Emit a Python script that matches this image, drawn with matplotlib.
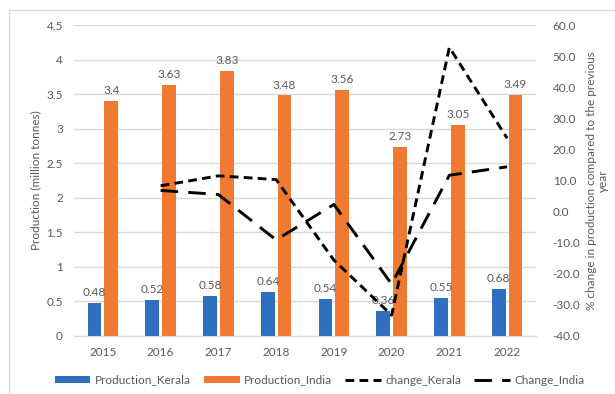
import matplotlib.pyplot as plt
import numpy as np
from matplotlib.lines import Line2D

plt.rcParams['font.family'] = ['Lato', 'DejaVu Sans']

years = ['2015', '2016', '2017', '2018', '2019', '2020', '2021', '2022']
prod_kerala = [0.48, 0.52, 0.58, 0.64, 0.54, 0.36, 0.55, 0.68]
prod_india = [3.4, 3.63, 3.83, 3.48, 3.56, 2.73, 3.05, 3.49]
# % change vs previous year (no value for the first year)
change_kerala = [np.nan, 8.3, 11.5, 10.3, -15.6, -33.3, 52.8, 23.6]
change_india = [np.nan, 6.8, 5.5, -9.1, 2.3, -23.3, 11.7, 14.4]

blue = '#2E6FBF'
orange = '#F07A32'
grey = '#595959'
grid = '#D9D9D9'

fig = plt.figure(figsize=(6.15, 3.94), dpi=100)
ax = fig.add_axes([74/615, 1 - 336/394, (536-74)/615, (336-25)/394])
ax2 = ax.twinx()

x = np.arange(len(years))
w = 0.24
b1 = ax.bar(x - 0.145, prod_kerala, w, color=blue, label='Production_Kerala', zorder=2)
b2 = ax.bar(x + 0.145, prod_india, w, color=orange, label='Production_India', zorder=2)
for r, v in zip(b1, prod_kerala):
    ax.text(r.get_x() + r.get_width()/2, v + 0.07, f'{v:g}', ha='center', va='bottom',
            fontsize=8.5, color=grey)
for r, v in zip(b2, prod_india):
    ax.text(r.get_x() + r.get_width()/2, v + 0.07, f'{v:g}', ha='center', va='bottom',
            fontsize=8.5, color=grey)

ax.set_xlim(-0.5, len(years) - 0.5)
ax.set_ylim(0, 4.5)
ax.set_yticks(np.arange(0, 4.51, 0.5))
ax.set_yticklabels([f'{v:g}' for v in np.arange(0, 4.51, 0.5)])
ax.set_xticks(x)
ax.set_xticklabels(years)
ax.yaxis.grid(True, color=grid, linewidth=1, zorder=0)
ax.set_axisbelow(True)
for s in ['top', 'right', 'left']:
    ax.spines[s].set_visible(False)
    ax2.spines[s].set_visible(False)
ax.spines['bottom'].set_color(grid)
ax2.spines['bottom'].set_visible(False)
ax.tick_params(length=0, colors=grey, labelsize=8.5, pad=8)
ax.set_ylabel('Production (million tonnes)', color=grey, fontsize=8.5, labelpad=4)

l1, = ax2.plot(x, change_kerala, color='black', linewidth=2.1, dashes=(3, 1.8),
               label='change_Kerala', zorder=3)
l2, = ax2.plot(x, change_india, color='black', linewidth=2.1, dashes=(6, 3.5),
               label='Change_India', zorder=3)
ax2.set_ylim(-40, 60)
ax2.set_yticks(np.arange(-40, 61, 10))
ax2.set_yticklabels([f'{v:.1f}' for v in np.arange(-40, 61, 10)])
ax2.tick_params(length=0, colors=grey, labelsize=8.5, pad=12)
ax2.set_ylabel('% change in production compared to the previous\nyear', color=grey,
               fontsize=8.5, labelpad=4, linespacing=1.15)

handles = [b1, b2, l1, l2]
fig.legend(handles, [h.get_label() for h in handles], loc='center',
           bbox_to_anchor=(0.52, 1 - 380/394), ncol=4, frameon=False, fontsize=8.5,
           labelcolor=grey, handlelength=3.0, handleheight=0.6, columnspacing=1.1,
           handletextpad=0.4)

# light frame around the chart area
fig.add_artist(Line2D([9/615, 9/615], [0, 1 - 10/394], color=grid, linewidth=1))
fig.add_artist(Line2D([9/615, 1], [1 - 10/394, 1 - 10/394], color=grid, linewidth=1))

fig.savefig('out.png', dpi=100)
